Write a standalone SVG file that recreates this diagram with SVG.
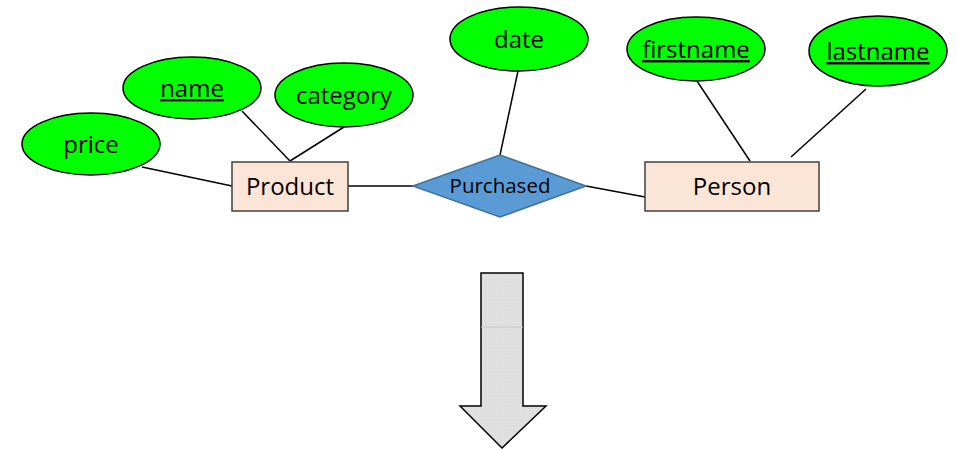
<svg xmlns="http://www.w3.org/2000/svg" width="957" height="449" viewBox="0 0 957 449">
  <defs>
    <pattern id="grain" width="3" height="3" patternUnits="userSpaceOnUse">
      <rect width="3" height="3" fill="#e0e0e0"/>
      <rect width="1" height="1" fill="#d9d9d9"/>
      <rect x="2" y="2" width="1" height="1" fill="#dbdbdb"/>
    </pattern>
  </defs>
  <style>
    .attr { fill: #00ff00; stroke: #000; stroke-width: 1.5; }
    .entity { fill: #fbe5d6; stroke: #404040; stroke-width: 1.5; }
    .rel { fill: #5b9bd5; stroke: #41719c; stroke-width: 1.5; }
    .edge { stroke: #000; stroke-width: 1.5; fill: none; }
    text { font-family: "Open Sans", "Noto Sans", "Liberation Sans", sans-serif; fill: #000; text-anchor: middle; }
    .lbl { font-size: 24px; }
    .key { text-decoration: underline; }
    .small { font-size: 20.5px; }
  </style>

  <!-- connectors -->
  <g id="connectors">
    <line class="edge" x1="142" y1="167" x2="232" y2="186"/>
    <line class="edge" x1="242" y1="111" x2="290" y2="161"/>
    <line class="edge" x1="344" y1="127" x2="290" y2="161"/>
    <line class="edge" x1="348" y1="186" x2="413" y2="186"/>
    <line class="edge" x1="518" y1="71" x2="500" y2="155"/>
    <line class="edge" x1="586" y1="186" x2="645" y2="197"/>
    <line class="edge" x1="697" y1="81" x2="750" y2="161"/>
    <line class="edge" x1="866" y1="89" x2="791" y2="157"/>
  </g>

  <!-- attributes -->
  <g id="price">
    <ellipse class="attr" cx="91" cy="144" rx="69" ry="31"/>
    <text class="lbl" x="91" y="153">price</text>
  </g>
  <g id="name">
    <ellipse class="attr" cx="192" cy="88" rx="69" ry="31"/>
    <text class="lbl key" x="192" y="97">name</text>
  </g>
  <g id="category">
    <ellipse class="attr" cx="344" cy="95" rx="69" ry="32"/>
    <text class="lbl" x="344" y="104">category</text>
  </g>
  <g id="date">
    <ellipse class="attr" cx="519" cy="39" rx="69" ry="32"/>
    <text class="lbl" x="519" y="48">date</text>
  </g>
  <g id="firstname">
    <ellipse class="attr" cx="696" cy="49" rx="69" ry="32"/>
    <text class="lbl key" x="696" y="58">firstname</text>
  </g>
  <g id="lastname">
    <ellipse class="attr" cx="878" cy="51" rx="69" ry="35"/>
    <text class="lbl key" x="878" y="60">lastname</text>
  </g>

  <!-- entities -->
  <g id="product">
    <rect class="entity" x="232" y="162" width="116" height="49"/>
    <text class="lbl" x="290" y="195">Product</text>
  </g>
  <g id="person">
    <rect class="entity" x="645" y="162" width="174" height="49"/>
    <text class="lbl" x="732" y="195">Person</text>
  </g>

  <!-- relationship -->
  <g id="purchased">
    <polygon class="rel" points="413,186 500,155 586,186 500,217"/>
    <text class="small" x="500" y="193">Purchased</text>
  </g>

  <!-- block arrow -->
  <g id="down-arrow">
    <polygon points="481,273 523,273 523,406 546,406 502,448 460,406 481,406" fill="url(#grain)" stroke="#000" stroke-width="1.5"/>
    <line x1="481" y1="327" x2="523" y2="327" stroke="#c8c8c8" stroke-width="1"/>
  </g>
</svg>
